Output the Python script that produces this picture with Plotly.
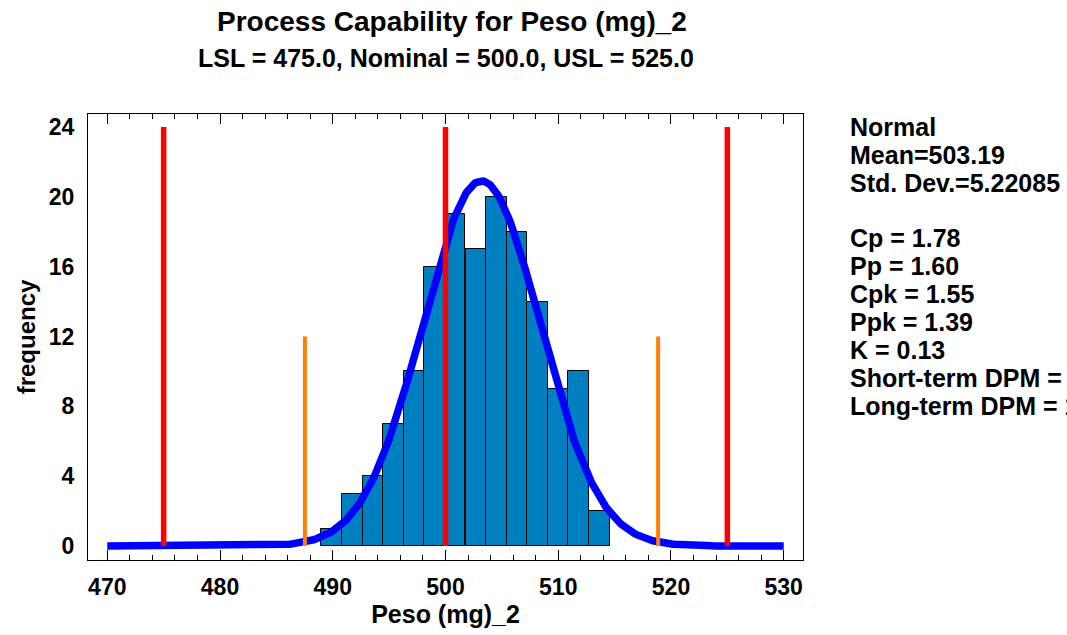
import numpy as np
import plotly.graph_objects as go

# ---- data ----
bin_centers = [489.91, 491.74, 493.56, 495.39, 497.21, 499.04, 500.86,
               502.69, 504.51, 506.34, 508.16, 509.99, 511.81, 513.64]
counts = [1, 3, 4, 7, 10, 16, 19, 17, 20, 18, 14, 9, 10, 2]
bin_width = 1.825

mean = 503.19
std_dev = 5.22085
n_obs = sum(counts)
spec_limits = [475.0, 500.0, 525.0]       # LSL, Nominal, USL
spec_height = 24
sigma3_limits = [487.53, 518.86]          # mean +/- 3 sigma (short term)
sigma3_height = 12
curve_range = [470, 530]

stat_lines = ["Normal", "Mean=503.19", "Std. Dev.=5.22085", "",
              "Cp = 1.78", "Pp = 1.60", "Cpk = 1.55", "Ppk = 1.39",
              "K = 0.13", "Short-term DPM = 1.6", "Long-term DPM = 14.8"]

x_ticks = [470, 480, 490, 500, 510, 520, 530]
y_ticks = [0, 4, 8, 12, 16, 20, 24]

# ---- figure ----
fig = go.Figure()

fig.add_trace(go.Bar(
    x=bin_centers, y=counts, width=bin_width,
    marker=dict(color="#0080C0", line=dict(color="black", width=1)),
    showlegend=False, hoverinfo="x+y"))

xc = np.linspace(curve_range[0], curve_range[1], 601)
yc = n_obs * bin_width * np.exp(-0.5 * ((xc - mean) / std_dev) ** 2) / (std_dev * np.sqrt(2 * np.pi))
fig.add_trace(go.Scatter(x=xc, y=yc, mode="lines",
                         line=dict(color="#0000FF", width=7.5), showlegend=False))

for xv in sigma3_limits:
    fig.add_trace(go.Scatter(x=[xv, xv], y=[0, sigma3_height], mode="lines",
                             line=dict(color="#FF8000", width=4), showlegend=False))
for xv in spec_limits:
    fig.add_trace(go.Scatter(x=[xv, xv], y=[0, spec_height], mode="lines",
                             line=dict(color="#FF0000", width=5.5), showlegend=False))

sans = "Liberation Sans, Arial, sans-serif"

fig.update_layout(
    width=1067, height=635,
    margin=dict(l=88, r=264, t=114, b=73),
    paper_bgcolor="white", plot_bgcolor="white",
    bargap=0,
    xaxis=dict(range=[468.29, 531.71], tickvals=x_ticks,
               ticktext=[f"<b>{v}</b>" for v in x_ticks],
               ticks="inside", ticklen=10,
               tickwidth=1, tickcolor="black", showline=True, linecolor="black",
               linewidth=1, mirror="allticks", showgrid=False, zeroline=False,
               minor=dict(dtick=2, ticks="inside", ticklen=5, tickcolor="black", showgrid=False),
               tickfont=dict(family=sans, size=23, color="black"),
               ticklabelstandoff=6,
               title=dict(text="<b>Peso (mg)_2</b>", font=dict(family=sans, size=25, color="black"),
                          standoff=6)),
    yaxis=dict(range=[-0.8, 24.75], tickvals=y_ticks,
               ticktext=[f"<b>{v}</b>" for v in y_ticks],
               ticks="", showline=True,
               linecolor="black", linewidth=1, mirror=True, showgrid=False, zeroline=False,
               tickfont=dict(family=sans, size=23, color="black"),
               ticklabelstandoff=8,
               title=dict(text="<b>frequency</b>", font=dict(family=sans, size=24, color="black"),
                          standoff=6)),
)

plot_h = 635 - 114 - 73
plot_w = 1067 - 88 - 264

def py(ypx):
    return (635 - 73 - ypx) / plot_h

fig.add_annotation(text="<b>Process Capability for Peso (mg)_2</b>", xref="paper", yref="paper",
                   x=(452 - 88) / plot_w, y=py(21), xanchor="center", yanchor="middle", showarrow=False,
                   font=dict(family=sans, size=28, color="black"))
fig.add_annotation(text="<b>LSL = 475.0, Nominal = 500.0, USL = 525.0</b>", xref="paper", yref="paper",
                   x=(446 - 88) / plot_w, y=py(58), xanchor="center", yanchor="middle", showarrow=False,
                   font=dict(family=sans, size=25, color="black"))

for i, line in enumerate(stat_lines):
    if not line:
        continue
    fig.add_annotation(text=f"<b>{line}</b>", xref="paper", yref="paper",
                       x=(848 - 88) / plot_w, y=py(127 + 28 * i), xanchor="left", yanchor="middle",
                       showarrow=False, align="left",
                       font=dict(family=sans, size=25, color="black"))

fig.write_html("out.html")
